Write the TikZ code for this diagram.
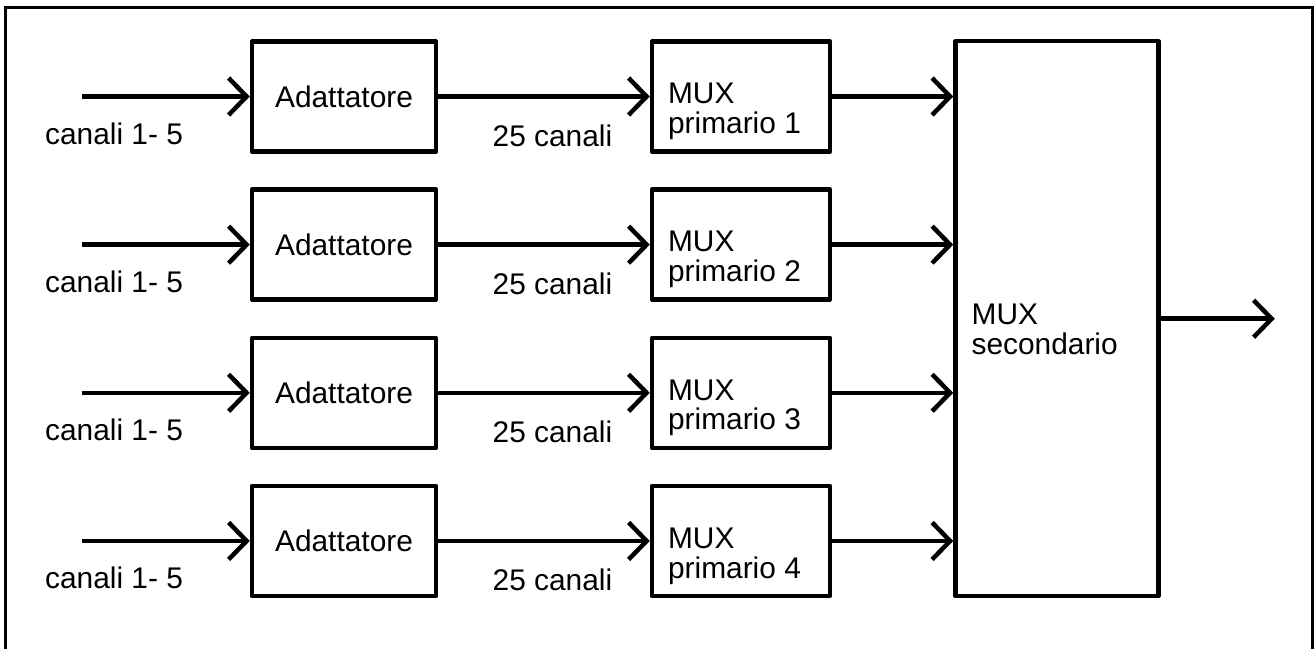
\documentclass[tikz,border=0pt]{standalone}
\usepackage{fontspec}
\setmainfont{Liberation Sans}
\usetikzlibrary{arrows.meta,calc}
\usetikzlibrary{positioning}
\tikzset{
    block/.style={
           rectangle,
           draw=black, line width=0.09cm,
           line join=round,
           inner sep=0pt,
           font=\fontsize{17}{17}\selectfont,
           },
    adapt/.style={block, minimum width=3.68cm, minimum height=2.2cm},
    prim/.style={block, minimum width=3.56cm, minimum height=2.2cm},
    lbl/.style={inner sep=0pt, font=\fontsize{17}{17}\selectfont},
    boxtext/.style={lbl, align=left, anchor=west},
    link/.style={->, line width=0.09cm},
}

\begin{document}
\begin{tikzpicture}[>={Straight Barb[length=0.36cm,width=0.74cm]},
    node distance=2.963cm, on grid]
 \useasboundingbox (0,0) rectangle (26.28,-12.96);

 % outer frame (open at the bottom)
 \draw[line width=0.06cm] (0.12,-13.5) -- (0.12,-0.14) -- (26.24,-0.14) -- (26.24,-13.5);

 % adattatori
 \node[adapt] (Ad1) at (6.88,-1.93) {Adattatore};
 \node[adapt, below=of Ad1] (Ad2) {Adattatore};
 \node[adapt, below=of Ad2] (Ad3) {Adattatore};
 \node[adapt, below=of Ad3] (Ad4) {Adattatore};

 % MUX primari
 \node[prim, right=7.94cm of Ad1] (Prim1) {};
 \node[prim, right=7.94cm of Ad2] (Prim2) {};
 \node[prim, right=7.94cm of Ad3] (Prim3) {};
 \node[prim, right=7.94cm of Ad4] (Prim4) {};

 \node[boxtext] (T1) at ([xshift=0.36cm,yshift=-0.3cm]Prim1.west) {MUX\\primario 1};
 \node[boxtext] (T2) at ([xshift=0.36cm,yshift=-0.3cm]Prim2.west) {MUX\\primario 2};
 \node[boxtext] (T3) at ([xshift=0.36cm,yshift=-0.3cm]Prim3.west) {MUX\\primario 3};
 \node[boxtext] (T4) at ([xshift=0.36cm,yshift=-0.3cm]Prim4.west) {MUX\\primario 4};

 % MUX secondario
 \node[block, minimum width=4.06cm, minimum height=11.1cm] (Sec)
   at ($(Prim1)!0.5!(Prim4)+(6.32,0)$) {};
 \node[boxtext] (TS) at ([xshift=0.36cm,yshift=-0.21cm]Sec.west) {MUX\\secondario};

 % ingressi
 \coordinate[left=3.36cm of Ad1.west] (In1);
 \coordinate[left=3.36cm of Ad2.west] (In2);
 \coordinate[left=3.36cm of Ad3.west] (In3);
 \coordinate[left=3.36cm of Ad4.west] (In4);
 \coordinate[right=2.28cm of Sec.east] (Out);

 \node[lbl, anchor=north west] (C1) at ([xshift=-0.74cm,yshift=-0.51cm]In1) {canali 1- 5};
 \node[lbl, anchor=north west] (C2) at ([xshift=-0.74cm,yshift=-0.51cm]In2) {canali 1- 5};
 \node[lbl, anchor=north west] (C3) at ([xshift=-0.74cm,yshift=-0.51cm]In3) {canali 1- 5};
 \node[lbl, anchor=north west] (C4) at ([xshift=-0.74cm,yshift=-0.51cm]In4) {canali 1- 5};

 % collegamenti
 \draw[link] (In1) -- (Ad1);
 \draw[link] (In2) -- (Ad2);
 \draw[link] (In3) -- (Ad3);
 \draw[link] (In4) -- (Ad4);

 \draw[link] (Ad1) -- node[lbl, pos=0.54, below=0.52cm] (N1) {25 canali} (Prim1);
 \draw[link] (Ad2) -- node[lbl, pos=0.54, below=0.52cm] (N2) {25 canali} (Prim2);
 \draw[link] (Ad3) -- node[lbl, pos=0.54, below=0.52cm] (N3) {25 canali} (Prim3);
 \draw[link] (Ad4) -- node[lbl, pos=0.54, below=0.52cm] (N4) {25 canali} (Prim4);

 \draw[link] (Prim1) -- (Prim1 -| Sec.west);
 \draw[link] (Prim2) -- (Prim2 -| Sec.west);
 \draw[link] (Prim3) -- (Prim3 -| Sec.west);
 \draw[link] (Prim4) -- (Prim4 -| Sec.west);

 \draw[link] (Sec) -- (Out);

\end{tikzpicture}
\end{document}
